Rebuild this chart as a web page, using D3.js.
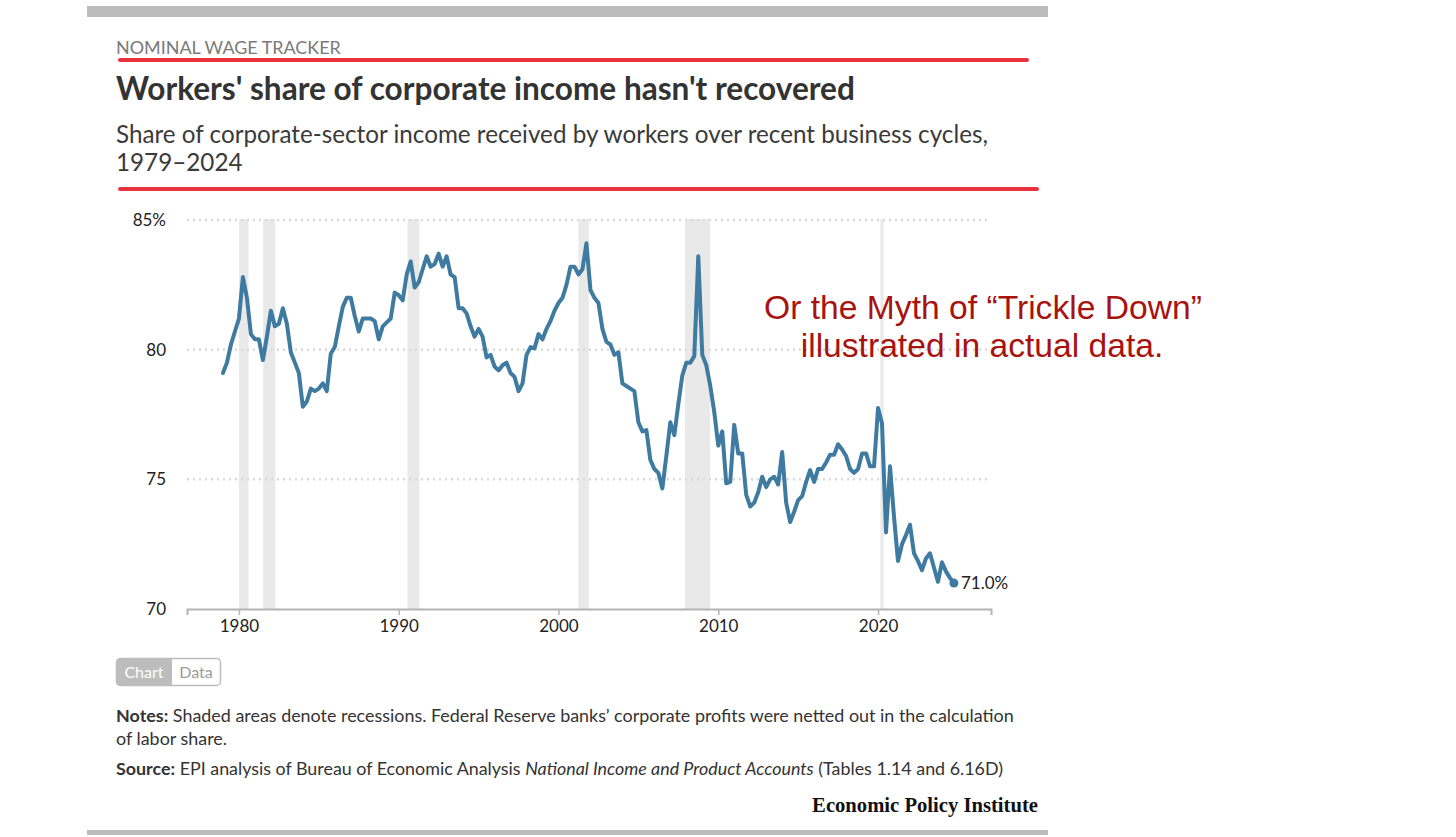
<!DOCTYPE html>
<html><head><meta charset="utf-8">
<script src="https://cdn.jsdelivr.net/npm/d3@7"></script>
<style>
html,body{margin:0;padding:0;background:#fff;}
svg{display:block;}
</style></head><body>
<svg id="chart" width="1456" height="837"></svg>
<script>
// ---------- DATA ----------
const kicker = "NOMINAL WAGE TRACKER";
const title = "Workers' share of corporate income hasn't recovered";
const subtitleLines = [
  "Share of corporate-sector income received by workers over recent business cycles,",
  "1979–2024"
];
const firstYear = 1979; // quarterly series starts 1979 Q1
const laborShare = [
  79.1, 79.5, 80.2, 80.7,   // 1979
  81.2, 82.8, 82.0, 80.6,   // 1980
  80.4, 80.4, 79.6, 80.5,   // 1981
  81.5, 80.9, 81.0, 81.6,   // 1982
  81.0, 79.9, 79.5, 79.1,   // 1983
  77.8, 78.0, 78.5, 78.4,   // 1984
  78.5, 78.7, 78.4, 79.85,  // 1985
  80.1, 80.9, 81.65, 82.0,  // 1986
  82.0, 81.3, 80.7, 81.2,   // 1987
  81.2, 81.2, 81.1, 80.4,   // 1988
  80.9, 81.05, 81.2, 82.2,  // 1989
  82.1, 81.9, 82.9, 83.4,   // 1990
  82.4, 82.6, 83.1, 83.6,   // 1991
  83.2, 83.3, 83.7, 83.2,   // 1992
  83.6, 82.9, 82.8, 81.6,   // 1993
  81.6, 81.4, 80.9, 80.5,   // 1994
  80.8, 80.5, 79.7, 79.8,   // 1995
  79.35, 79.2, 79.4, 79.5,  // 1996
  79.1, 78.95, 78.4, 78.7,  // 1997
  79.8, 80.1, 80.05, 80.6,  // 1998
  80.4, 80.8, 81.1, 81.5,   // 1999
  81.8, 82.0, 82.5, 83.2,   // 2000
  83.2, 82.9, 83.1, 84.1,   // 2001
  82.3, 82.0, 81.8, 80.8,   // 2002
  80.3, 80.2, 79.8, 79.9,   // 2003
  78.7, 78.6, 78.5, 78.4,   // 2004
  77.2, 76.85, 76.9, 75.75, // 2005
  75.4, 75.25, 74.65, 75.9, // 2006
  77.2, 76.7, 77.9, 79.0,   // 2007
  79.5, 79.5, 79.75, 83.6,  // 2008
  79.8, 79.4, 78.6, 77.6,   // 2009
  76.3, 76.85, 74.85, 74.9, // 2010
  77.1, 76.0, 76.0, 74.4,   // 2011
  73.95, 74.1, 74.5, 75.1,  // 2012
  74.7, 75.0, 75.1, 74.8,   // 2013
  76.05, 74.1, 73.35, 73.75,// 2014
  74.2, 74.35, 74.9, 75.35, // 2015
  74.9, 75.4, 75.4, 75.65,  // 2016
  75.95, 75.95, 76.35, 76.15,// 2017
  75.9, 75.4, 75.25, 75.4,  // 2018
  76.0, 76.0, 75.5, 75.5,   // 2019
  77.75, 77.15, 72.95, 75.5,// 2020
  73.55, 71.85, 72.5, 72.85,// 2021
  73.25, 72.15, 71.85, 71.5,// 2022
  71.95, 72.15, 71.6, 71.05,// 2023
  71.8, 71.45, 71.2, 71.0   // 2024
];
const recessions = [
  [1980.0, 1980.6], [1981.52, 1982.28], [1990.55, 1991.3],
  [2001.25, 2001.9], [2007.92, 2009.48], [2020.15, 2020.35]
];
const yTicks = [70, 75, 80, 85];
const yTickLabels = ["70", "75", "80", "85%"];
const xTicks = [1980, 1990, 2000, 2010, 2020];
const xTickLabels = ["1980", "1990", "2000", "2010", "2020"];
const endLabel = "71.0%";
const annotationLines = ["Or the Myth of “Trickle Down”", "illustrated in actual data."];
const toggleLabels = ["Chart", "Data"];
const notesLines = [
  ["Notes:", " Shaded areas denote recessions. Federal Reserve banks’ corporate profits were netted out in the calculation"],
  ["", "of labor share."]
];
const sourceParts = [
  ["Source:", "bold"], [" EPI analysis of Bureau of Economic Analysis ", "normal"],
  ["National Income and Product Accounts", "italic"], [" (Tables 1.14 and 6.16D)", "normal"]
];
const brand = "Economic Policy Institute";

// ---------- DRAW ----------
const svg = d3.select("#chart");
const SANS = "Lato, 'Open Sans', sans-serif";

function fit(sel, target) {
  const w = sel.node().getComputedTextLength();
  const fs = parseFloat(sel.attr("font-size"));
  if (w > 0) sel.attr("font-size", (fs * target / w).toFixed(2));
  return sel;
}

// frame bars
svg.append("rect").attr("x", 87).attr("y", 6).attr("width", 961).attr("height", 11).attr("fill", "#bcbcbc");
svg.append("rect").attr("x", 87).attr("y", 830).attr("width", 961).attr("height", 5).attr("fill", "#bcbcbc");

// header
fit(svg.append("text").attr("x", 116).attr("y", 54).attr("font-family", SANS).attr("font-size", 17)
  .attr("fill", "#7a7a7a").text(kicker), 225);
svg.append("line").attr("x1", 120).attr("x2", 1027).attr("y1", 60).attr("y2", 60)
  .attr("stroke", "#e8333f").attr("stroke-width", 4).attr("stroke-linecap", "round");
fit(svg.append("text").attr("x", 116).attr("y", 100).attr("font-family", SANS).attr("font-weight", 700)
  .attr("font-size", 28).attr("fill", "#333").text(title), 739);
const sub1 = svg.append("text").attr("x", 116).attr("y", 143).attr("font-family", SANS)
  .attr("font-size", 21).attr("fill", "#3a3a3a").text(subtitleLines[0]);
fit(sub1, 872);
svg.append("text").attr("x", 116).attr("y", 171).attr("font-family", SANS)
  .attr("font-size", sub1.attr("font-size")).attr("fill", "#3a3a3a").text(subtitleLines[1]);
svg.append("line").attr("x1", 120).attr("x2", 1037).attr("y1", 189).attr("y2", 189)
  .attr("stroke", "#e8333f").attr("stroke-width", 4).attr("stroke-linecap", "round");

// scales
const x = d3.scaleLinear().domain([1976.75, 2027.07]).range([187, 991]);
const y = d3.scaleLinear().domain([70, 85]).range([609, 220]);

// recessions
svg.append("g").selectAll("rect").data(recessions).join("rect")
  .attr("x", d => x(d[0])).attr("width", d => Math.max(3, x(d[1]) - x(d[0])))
  .attr("y", y(85) - 1).attr("height", y(70) - y(85) + 1)
  .attr("fill", "#e9e9e9");

// grid
svg.append("g").selectAll("line").data(yTicks.filter(d => d > 70)).join("line")
  .attr("x1", 187).attr("x2", 990).attr("y1", d => y(d)).attr("y2", d => y(d))
  .attr("stroke", "#d9d9d9").attr("stroke-width", 2.5).attr("stroke-dasharray", "2,4");

// y labels
svg.append("g").selectAll("text").data(yTicks).join("text")
  .attr("x", 166).attr("y", d => y(d)).attr("dy", "0.36em").attr("text-anchor", "end")
  .attr("font-family", SANS).attr("font-size", 17).attr("fill", "#222")
  .text((d, i) => yTickLabels[i]);

// x axis
const xAxis = d3.axisBottom(x).tickValues(xTicks).tickSize(6).tickPadding(5)
  .tickFormat((d, i) => xTickLabels[i]);
const gx = svg.append("g").attr("transform", `translate(0,${y(70)})`).call(xAxis);
gx.select(".domain").attr("stroke", "#b3b3b3").attr("stroke-width", 2);
gx.selectAll(".tick line").attr("stroke", "#b3b3b3").attr("stroke-width", 1.5);
gx.selectAll(".tick text").attr("font-family", SANS).attr("font-size", 17).attr("fill", "#222");

// line
const series = laborShare.map((v, i) => ({ t: firstYear + i / 4, v }));
svg.append("path").datum(series)
  .attr("fill", "none").attr("stroke", "#3f7ba1").attr("stroke-width", 4)
  .attr("stroke-linejoin", "round").attr("stroke-linecap", "round")
  .attr("d", d3.line().x(d => x(d.t)).y(d => y(d.v)));
const last = series[series.length - 1];
svg.append("circle").attr("cx", x(last.t)).attr("cy", y(last.v)).attr("r", 4.5).attr("fill", "#3f7ba1");
svg.append("text").attr("x", x(last.t) + 7).attr("y", y(last.v)).attr("dy", "0.36em")
  .attr("font-family", SANS).attr("font-size", 17).attr("fill", "#222").text(endLabel);

// annotation
const ann = svg.append("g");
const a1 = ann.append("text").attr("x", 983).attr("y", 319).attr("text-anchor", "middle")
  .attr("font-family", "'Liberation Sans', Arial, sans-serif").attr("font-size", 33.5)
  .attr("fill", "#a8120f").text(annotationLines[0]);
fit(a1, 438);
ann.append("text").attr("x", 982).attr("y", 357).attr("text-anchor", "middle")
  .attr("font-family", "'Liberation Sans', Arial, sans-serif").attr("font-size", a1.attr("font-size"))
  .attr("fill", "#a8120f").text(annotationLines[1]);

// toggle buttons
const tg = svg.append("g");
tg.append("rect").attr("x", 116.5).attr("y", 658.5).attr("width", 104).attr("height", 27).attr("rx", 4)
  .attr("fill", "#fff").attr("stroke", "#bdbdbd").attr("stroke-width", 1.5);
tg.append("path").attr("d", "M120.5,658.5 H172 V685.5 H120.5 A4,4 0 0 1 116.5,681.5 V662.5 A4,4 0 0 1 120.5,658.5 Z")
  .attr("fill", "#bdbdbd");
tg.append("text").attr("x", 144).attr("y", 678).attr("text-anchor", "middle").attr("font-family", SANS)
  .attr("font-size", 16).attr("fill", "#fff").text(toggleLabels[0]);
tg.append("text").attr("x", 196).attr("y", 678).attr("text-anchor", "middle").attr("font-family", SANS)
  .attr("font-size", 16).attr("fill", "#9a9a9a").text(toggleLabels[1]);

// notes
const n1 = svg.append("text").attr("x", 116).attr("y", 722).attr("font-family", SANS)
  .attr("font-size", 15.5).attr("fill", "#333");
n1.append("tspan").attr("font-weight", 700).text(notesLines[0][0]);
n1.append("tspan").text(notesLines[0][1]);
fit(n1, 898);
svg.append("text").attr("x", 116).attr("y", 745).attr("font-family", SANS)
  .attr("font-size", n1.attr("font-size")).attr("fill", "#333").text(notesLines[1][1]);

const src = svg.append("text").attr("x", 116).attr("y", 775).attr("font-family", SANS)
  .attr("font-size", 15.5).attr("fill", "#333");
sourceParts.forEach(([t, s]) => {
  const ts = src.append("tspan").text(t);
  if (s === "bold") ts.attr("font-weight", 700);
  if (s === "italic") ts.attr("font-style", "italic");
});
fit(src, 888);

// brand
const br = svg.append("text").attr("x", 1038).attr("y", 812).attr("text-anchor", "end")
  .attr("font-family", "'Liberation Serif', 'Times New Roman', serif").attr("font-weight", 700)
  .attr("font-size", 19).attr("fill", "#111").text(brand);
fit(br, 226);
</script>
</body></html>
